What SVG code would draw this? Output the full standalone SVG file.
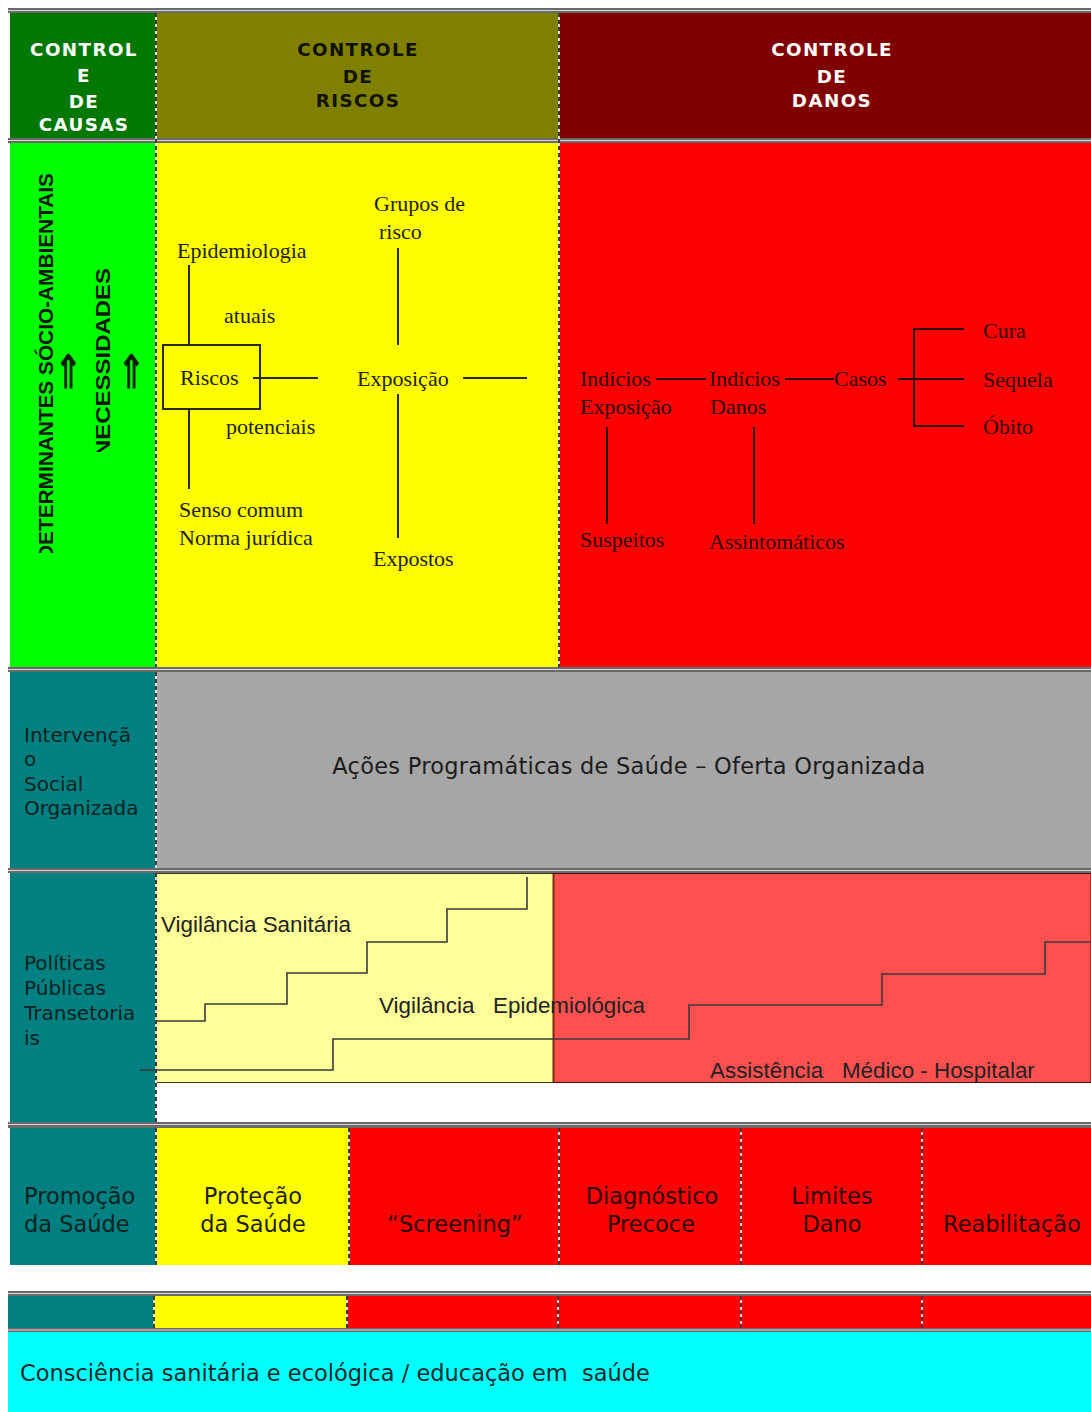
<svg xmlns="http://www.w3.org/2000/svg" width="1091" height="1412" viewBox="0 0 1091 1412">
  <style>
    .hdr { font-family: "DejaVu Sans", Verdana, sans-serif; font-weight: bold; font-size: 18.3px; letter-spacing: 1.4px; text-anchor: middle; }
    .serif { font-family: "Liberation Serif", "Times New Roman", serif; font-size: 22px; }
    .ys { fill: #1e1e00; }
    .rs { fill: #2a0000; }
    .vert { font-family: "Liberation Sans", Arial, sans-serif; font-weight: bold; font-size: 21px; fill: #0a1a00; }
    .arrow { font-family: "DejaVu Sans", sans-serif; font-size: 46px; fill: #0a1a00; stroke: #0a1a00; stroke-width: 0.9; text-anchor: middle; }
    .verd { font-family: "DejaVu Sans", Verdana, sans-serif; font-size: 22.5px; }
    .lbl { font-family: "DejaVu Sans", Verdana, sans-serif; font-size: 20px; fill: #0b2222; }
    .arial { font-family: "Liberation Sans", Arial, sans-serif; font-size: 22.4px; fill: #222; }
    .ln { stroke: #2a2a00; stroke-width: 2; fill: none; }
    .lnr { stroke: #2a0000; stroke-width: 2; fill: none; }
    .stair { stroke: #3a3a3a; stroke-width: 1.6; fill: none; }
    .gapw { stroke: #ffffff; stroke-width: 1.6; }
    .dash { stroke: #111; stroke-width: 1.6; stroke-dasharray: 4 3; }
    .sepband { fill: #6a6a6a; }
    .sepmid { stroke: #d8d8d8; stroke-width: 1; }
  </style>
  <defs>
    <clipPath id="clipDet"><rect x="10" y="143" width="145" height="410"/></clipPath>
    <clipPath id="clipNec"><rect x="10" y="143" width="145" height="309"/></clipPath>
  </defs>

  <rect x="0" y="0" width="1091" height="1412" fill="#ffffff"/>

  <!-- header row -->
  <g id="hdr-causas">
    <rect x="10" y="13" width="146" height="125" fill="#007800"/>
    <text class="hdr" fill="#ffffff"><tspan x="84" y="56">CONTROL</tspan><tspan x="84" y="82">E</tspan><tspan x="84" y="108">DE</tspan><tspan x="84" y="131">CAUSAS</tspan></text>
  </g>
  <g id="hdr-riscos">
    <rect x="156" y="13" width="403" height="125" fill="#808000"/>
    <text class="hdr" fill="#111100"><tspan x="358" y="56">CONTROLE</tspan><tspan x="358" y="83">DE</tspan><tspan x="358" y="107">RISCOS</tspan></text>
  </g>
  <g id="hdr-danos">
    <rect x="559" y="13" width="532" height="125" fill="#800000"/>
    <text class="hdr" fill="#ffffff"><tspan x="832" y="56">CONTROLE</tspan><tspan x="832" y="83">DE</tspan><tspan x="832" y="107">DANOS</tspan></text>
  </g>

  <!-- second row: determinants -->
  <g id="determinantes">
    <rect x="10" y="143" width="146" height="524" fill="#00ff00"/>
    <g clip-path="url(#clipDet)">
      <text class="vert" transform="translate(53,173) rotate(-90)" text-anchor="end" textLength="387" lengthAdjust="spacingAndGlyphs">DETERMINANTES SÓCIO-AMBIENTAIS</text>
    </g>
    <g clip-path="url(#clipNec)">
      <text class="vert" transform="translate(110,268) rotate(-90)" text-anchor="end" textLength="189" lengthAdjust="spacingAndGlyphs">NECESSIDADES</text>
    </g>
    <text class="arrow" transform="translate(68.5,388) scale(0.75,1)">⇑</text>
    <text class="arrow" transform="translate(131.5,388) scale(0.75,1)">⇑</text>
  </g>

  <!-- second row: risk control -->
  <g id="riscos">
    <rect x="156" y="143" width="403" height="524" fill="#ffff00"/>
    <text class="serif ys" x="374" y="211">Grupos de</text>
    <text class="serif ys" x="379" y="239">risco</text>
    <text class="serif ys" x="177" y="258">Epidemiologia</text>
    <text class="serif ys" x="224" y="323">atuais</text>
    <rect x="163" y="345" width="97" height="64" class="ln"/>
    <text class="serif ys" x="180" y="385">Riscos</text>
    <text class="serif ys" x="357" y="386">Exposição</text>
    <text class="serif ys" x="226" y="434">potenciais</text>
    <text class="serif ys" x="179" y="517">Senso comum</text>
    <text class="serif ys" x="179" y="545">Norma jurídica</text>
    <text class="serif ys" x="373" y="566">Expostos</text>
  </g>

  <!-- second row: damage control -->
  <g id="danos">
    <rect x="559" y="143" width="532" height="524" fill="#ff0000"/>
    <text class="serif rs" x="580" y="386">Indícios</text>
    <text class="serif rs" x="580" y="414">Exposição</text>
    <text class="serif rs" x="709" y="386">Indícios</text>
    <text class="serif rs" x="710" y="414">Danos</text>
    <text class="serif rs" x="834" y="386">Casos</text>
    <text class="serif rs" x="983" y="338">Cura</text>
    <text class="serif rs" x="983" y="387">Sequela</text>
    <text class="serif rs" x="983" y="434">Óbito</text>
    <text class="serif rs" x="580" y="547">Suspeitos</text>
    <text class="serif rs" x="709" y="549">Assintomáticos</text>
  </g>

  <!-- third row -->
  <g id="intervencao">
    <rect x="10" y="672" width="146" height="196" fill="#008080"/>
    <text class="lbl"><tspan x="24" y="742">Intervençã</tspan><tspan x="24" y="766">o</tspan><tspan x="24" y="791">Social</tspan><tspan x="24" y="815">Organizada</tspan></text>
  </g>
  <g id="acoes">
    <rect x="156" y="672" width="935" height="196" fill="#a6a6a6"/>
    <text class="verd" x="629" y="774" text-anchor="middle" fill="#1c1c1c" letter-spacing="0.25">Ações Programáticas de Saúde – Oferta Organizada</text>
  </g>

  <!-- fourth row -->
  <g id="politicas">
    <rect x="10" y="873" width="146" height="249" fill="#008080"/>
    <text class="lbl"><tspan x="24" y="970">Políticas</tspan><tspan x="24" y="995">Públicas</tspan><tspan x="24" y="1020">Transetoria</tspan><tspan x="24" y="1045">is</tspan></text>
  </g>
  <g id="vigilancia">
    <rect x="156.5" y="873.5" width="397" height="209" fill="#ffff99" stroke="#3a3a1a" stroke-width="1"/>
    <text class="arial" x="161" y="932">Vigilância Sanitária</text>
  </g>
  <g id="assistencia">
    <rect x="553.5" y="873.5" width="537.5" height="209" fill="#ff5050" stroke="#3a1010" stroke-width="1"/>
    <line x1="553.5" y1="874" x2="553.5" y2="1082" stroke="#7a2a10" stroke-width="2"/>
    <text class="arial" x="710" y="1078" xml:space="preserve">Assistência   Médico - Hospitalar</text>
  </g>
  <text class="arial" x="379" y="1013" xml:space="preserve">Vigilância   Epidemiológica</text>

  <!-- fifth row: levels of prevention -->
  <g id="promocao">
    <rect x="10" y="1128" width="146" height="137" fill="#008080"/>
    <text class="verd" fill="#0b2222"><tspan x="24" y="1204">Promoção</tspan><tspan x="24" y="1232">da Saúde</tspan></text>
  </g>
  <g id="protecao">
    <rect x="156" y="1128" width="193" height="137" fill="#ffff00"/>
    <text class="verd" fill="#1e1e00" text-anchor="middle"><tspan x="253" y="1204">Proteção</tspan><tspan x="253" y="1232">da Saúde</tspan></text>
  </g>
  <g id="screening">
    <rect x="349" y="1128" width="210" height="137" fill="#ff0000"/>
    <text class="verd" fill="#2a0000" text-anchor="middle" x="455" y="1232">“Screening”</text>
  </g>
  <g id="diagnostico">
    <rect x="559" y="1128" width="182" height="137" fill="#ff0000"/>
    <text class="verd" fill="#2a0000" text-anchor="middle"><tspan x="652" y="1204">Diagnóstico</tspan><tspan x="651" y="1232">Precoce</tspan></text>
  </g>
  <g id="limites">
    <rect x="741" y="1128" width="181" height="137" fill="#ff0000"/>
    <text class="verd" fill="#2a0000" text-anchor="middle"><tspan x="832" y="1204">Limites</tspan><tspan x="832" y="1232">Dano</tspan></text>
  </g>
  <g id="reabilitacao">
    <rect x="922" y="1128" width="169" height="137" fill="#ff0000"/>
    <text class="verd" fill="#2a0000" text-anchor="middle" x="1012" y="1232">Reabilitação</text>
  </g>

  <!-- sixth row: colour strip -->
  <g id="faixa">
    <rect x="8" y="1296" width="146" height="32" fill="#008080"/>
    <rect x="154" y="1296" width="193" height="32" fill="#ffff00"/>
    <rect x="347" y="1296" width="744" height="32" fill="#ff0000"/>
  </g>

  <!-- bottom band -->
  <g id="consciencia">
    <rect x="8" y="1332" width="1083" height="80" fill="#00ffff"/>
    <text class="verd" x="20" y="1381" fill="#0a2a2a" xml:space="preserve">Consciência sanitária e ecológica / educação em  saúde</text>
  </g>

  <!-- separator bands between rows -->
  <g id="separadores">
    <rect class="sepband" x="8" y="8" width="1083" height="5"/>
    <line class="sepmid" x1="8" y1="10.5" x2="1091" y2="10.5"/>
    <rect class="sepband" x="8" y="138" width="1083" height="5"/>
    <line class="sepmid" x1="8" y1="140.5" x2="1091" y2="140.5"/>
    <rect class="sepband" x="8" y="667" width="1083" height="5"/>
    <line class="sepmid" x1="8" y1="669.5" x2="1091" y2="669.5"/>
    <rect class="sepband" x="8" y="868" width="1083" height="5"/>
    <line class="sepmid" x1="8" y1="870.5" x2="1091" y2="870.5"/>
    <rect class="sepband" x="8" y="1122" width="1083" height="6"/>
    <line class="sepmid" x1="8" y1="1124.5" x2="1091" y2="1124.5"/>
    <rect class="sepband" x="8" y="1291" width="1083" height="5"/>
    <line class="sepmid" x1="8" y1="1293.5" x2="1091" y2="1293.5"/>
    <rect class="sepband" x="8" y="1328" width="1083" height="4"/>
    <line class="sepmid" x1="8" y1="1330" x2="1091" y2="1330"/>
  </g>

  <!-- dashed column dividers -->
  <g id="divisorias">
    <line class="gapw" x1="156" y1="13" x2="156" y2="667"/>
    <line class="dash" x1="156" y1="13" x2="156" y2="667"/>
    <line class="gapw" x1="559" y1="13" x2="559" y2="667"/>
    <line class="dash" x1="559" y1="13" x2="559" y2="667"/>
    <line class="gapw" x1="156" y1="672" x2="156" y2="868"/>
    <line class="dash" x1="156" y1="672" x2="156" y2="868"/>
    <line class="gapw" x1="156" y1="873" x2="156" y2="1122"/>
    <line class="dash" x1="156" y1="873" x2="156" y2="1122"/>
    <line class="gapw" x1="156" y1="1128" x2="156" y2="1265"/>
    <line class="dash" x1="156" y1="1128" x2="156" y2="1265"/>
    <line class="gapw" x1="349" y1="1128" x2="349" y2="1265"/>
    <line class="dash" x1="349" y1="1128" x2="349" y2="1265"/>
    <line class="gapw" x1="559" y1="1128" x2="559" y2="1265"/>
    <line class="dash" x1="559" y1="1128" x2="559" y2="1265"/>
    <line class="gapw" x1="741" y1="1128" x2="741" y2="1265"/>
    <line class="dash" x1="741" y1="1128" x2="741" y2="1265"/>
    <line class="gapw" x1="922" y1="1128" x2="922" y2="1265"/>
    <line class="dash" x1="922" y1="1128" x2="922" y2="1265"/>
    <line class="gapw" x1="154" y1="1296" x2="154" y2="1328"/>
    <line class="dash" x1="154" y1="1296" x2="154" y2="1328"/>
    <line class="gapw" x1="347" y1="1296" x2="347" y2="1328"/>
    <line class="dash" x1="347" y1="1296" x2="347" y2="1328"/>
    <line class="gapw" x1="558" y1="1296" x2="558" y2="1328"/>
    <line class="dash" x1="558" y1="1296" x2="558" y2="1328"/>
    <line class="gapw" x1="741" y1="1296" x2="741" y2="1328"/>
    <line class="dash" x1="741" y1="1296" x2="741" y2="1328"/>
    <line class="gapw" x1="922" y1="1296" x2="922" y2="1328"/>
    <line class="dash" x1="922" y1="1296" x2="922" y2="1328"/>
  </g>

  <!-- connectors -->
  <g id="conectores">
    <line class="ln" x1="189" y1="265" x2="189" y2="345" stroke-width="1.6"/>
    <line class="ln" x1="189" y1="409" x2="189" y2="489" stroke-width="1.6"/>
    <line class="ln" x1="253" y1="378" x2="318" y2="378"/>
    <line class="ln" x1="463" y1="378" x2="527" y2="378"/>
    <line class="ln" x1="398" y1="248" x2="398" y2="345"/>
    <line class="ln" x1="398" y1="394" x2="398" y2="538"/>
    <line class="lnr" x1="656" y1="379" x2="706" y2="379"/>
    <line class="lnr" x1="785" y1="379" x2="834" y2="379"/>
    <line class="lnr" x1="898" y1="379" x2="964" y2="379"/>
    <polyline class="lnr" points="964,329 914,329 914,426 964,426"/>
    <line class="lnr" x1="607" y1="427" x2="607" y2="524"/>
    <line class="lnr" x1="754" y1="427" x2="754" y2="524"/>
    <polyline class="stair" points="157,1021 205,1021 205,1004 287,1004 287,973 367,973 367,942 447,942 447,909 527,909 527,877"/>
    <polyline class="stair" points="140,1070 333,1070 333,1039 689,1039 689,1005 882,1005 882,974 1045,974 1045,942 1091,942"/>
  </g>
</svg>
